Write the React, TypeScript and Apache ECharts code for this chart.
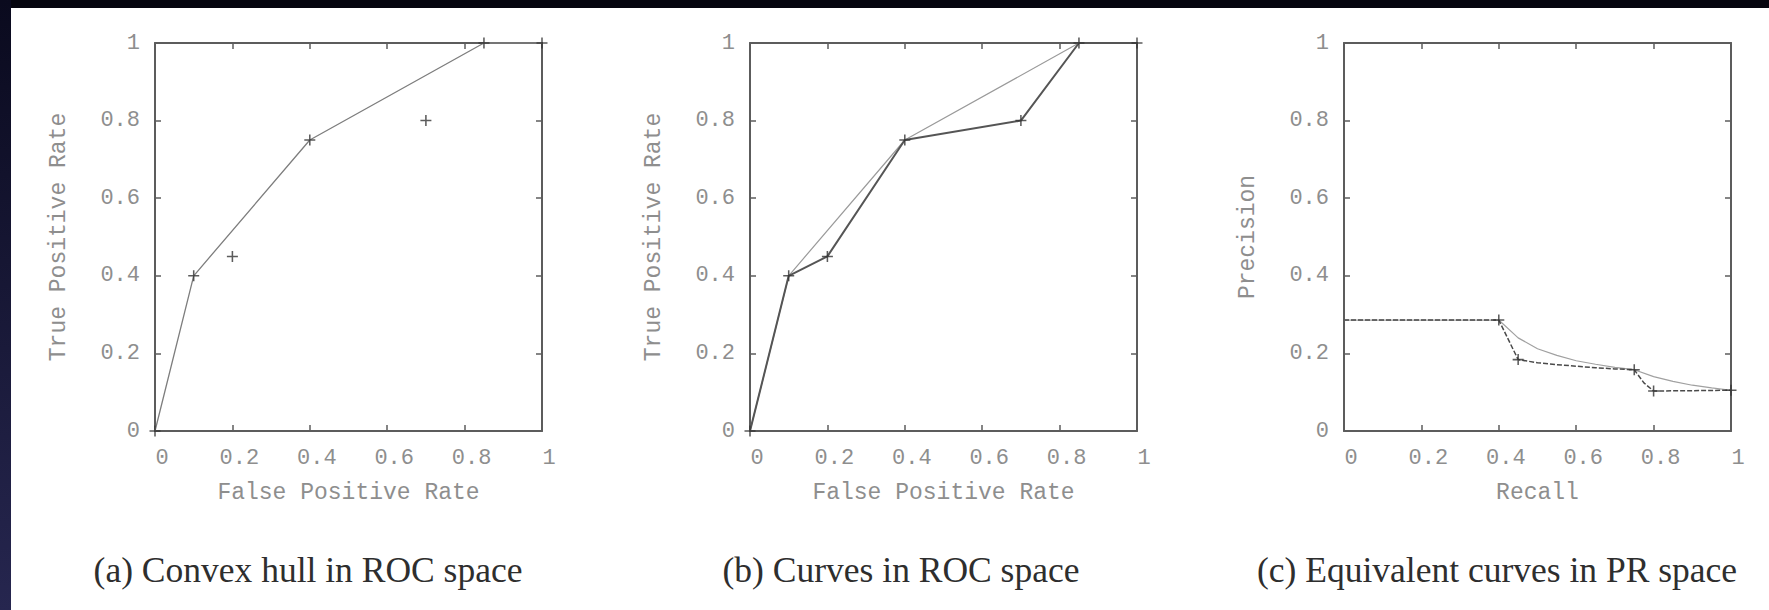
import React, { useEffect, useRef } from "react";
import * as echarts from "echarts";

// ---- data ----
const captions = [
  "(a) Convex hull in ROC space",
  "(b) Curves in ROC space",
  "(c) Equivalent curves in PR space",
];
const xTitles = ["False Positive Rate", "False Positive Rate", "Recall"];
const yTitles = ["True Positive Rate", "True Positive Rate", "Precision"];

// ROC operating points (FPR, TPR)
const rocFpr = [0, 0.1, 0.2, 0.4, 0.7, 0.85, 1];
const rocTpr = [0, 0.4, 0.45, 0.75, 0.8, 1, 1];
// ROC convex hull
const hullFpr = [0, 0.1, 0.4, 0.85, 1];
const hullTpr = [0, 0.4, 0.75, 1, 1];

// PR curve (dark, through all points)
const prCurveRecall = [0, 0.4, 0.45, 0.5, 0.55, 0.6, 0.65, 0.7, 0.75, 0.775, 0.8, 0.9, 1];
const prCurvePrecision = [0.286, 0.286, 0.184, 0.176, 0.171, 0.167, 0.163, 0.16, 0.158, 0.124, 0.103, 0.104, 0.105];
// PR markers
const prMarkRecall = [0.4, 0.45, 0.75, 0.8, 1];
const prMarkPrecision = [0.286, 0.184, 0.158, 0.103, 0.105];
// PR hull-equivalent curve (light)
const prHullRecall = [0, 0.4, 0.45, 0.5, 0.55, 0.6, 0.65, 0.7, 0.75, 0.8, 0.85, 0.9, 0.95, 1];
const prHullPrecision = [0.286, 0.286, 0.24, 0.212, 0.195, 0.181, 0.172, 0.164, 0.158, 0.14, 0.128, 0.118, 0.111, 0.105];

const zip = (a: number[], b: number[]) => a.map((v, i) => [v, b[i]]);

const PLUS = "path://M4.3,0H5.7V4.3H10V5.7H5.7V10H4.3V5.7H0V4.3H4.3Z";
const MONO = "'Liberation Mono', 'DejaVu Sans Mono', monospace";
const SERIF = "'Liberation Serif', 'DejaVu Serif', serif";
const LABEL_COLOR = "#8e8e8e";
const AXIS_COLOR = "#5c5c5c";

const gridLefts = [155, 750, 1344];
const GRID_TOP = 43;
const GRID_W = 387;
const GRID_H = 388;
const captionCenters = [308, 901, 1497];

export default function App() {
  const ref = useRef<HTMLDivElement>(null);

  useEffect(() => {
    if (!ref.current) return;
    const chart = echarts.init(ref.current, undefined, { renderer: "svg" });

    const grid = gridLefts.map((l) => ({ left: l, top: GRID_TOP, width: GRID_W, height: GRID_H, containLabel: false }));

    const tick = { show: true, inside: true, length: 6, lineStyle: { color: AXIS_COLOR, width: 1.5 } };
    const line = { show: true, onZero: false, lineStyle: { color: AXIS_COLOR, width: 2 } };

    const xAxis: any[] = [];
    const yAxis: any[] = [];
    for (let g = 0; g < 3; g++) {
      xAxis.push({
        type: "value", gridIndex: g, position: "bottom", min: 0, max: 1, interval: 0.2,
        axisLine: line, axisTick: tick, splitLine: { show: false },
        axisLabel: { show: true, margin: 16, fontFamily: MONO, fontSize: 22, color: LABEL_COLOR, padding: [0, 0, 0, 14] },
        name: xTitles[g], nameLocation: "middle", nameGap: 50,
        nameTextStyle: { fontFamily: MONO, fontSize: 23, color: LABEL_COLOR },
      });
      xAxis.push({
        type: "value", gridIndex: g, position: "top", min: 0, max: 1, interval: 0.2,
        axisLine: line, axisTick: tick, splitLine: { show: false }, axisLabel: { show: false },
      });
      yAxis.push({
        type: "value", gridIndex: g, position: "left", min: 0, max: 1, interval: 0.2,
        axisLine: line, axisTick: tick, splitLine: { show: false },
        axisLabel: { show: true, margin: 15, fontFamily: MONO, fontSize: 22, color: LABEL_COLOR },
        name: yTitles[g], nameLocation: "middle", nameGap: 85,
        nameTextStyle: { fontFamily: MONO, fontSize: 23, color: LABEL_COLOR },
      });
      yAxis.push({
        type: "value", gridIndex: g, position: "right", min: 0, max: 1, interval: 0.2,
        axisLine: line, axisTick: tick, splitLine: { show: false }, axisLabel: { show: false },
      });
    }

    const marker = (g: number, data: number[][], color = "#333") => ({
      type: "scatter", xAxisIndex: 2 * g, yAxisIndex: 2 * g, data,
      symbol: PLUS, symbolSize: 11, clip: false, z: 5,
      itemStyle: { color },
    });
    const lineSeries = (g: number, data: number[][], color: string, width: number, type: any = "solid") => ({
      type: "line", xAxisIndex: 2 * g, yAxisIndex: 2 * g, data,
      showSymbol: false, symbol: "none", clip: false,
      lineStyle: { color, width, type },
    });

    const series: any[] = [
      // (a)
      lineSeries(0, zip(hullFpr, hullTpr), "#7d7d7d", 1.3),
      marker(0, zip(rocFpr, rocTpr)),
      // (b)
      lineSeries(1, zip(hullFpr, hullTpr), "#9a9a9a", 1.2),
      lineSeries(1, zip(rocFpr, rocTpr), "#555", 2),
      marker(1, zip(rocFpr, rocTpr)),
      // (c)
      lineSeries(2, zip(prHullRecall, prHullPrecision), "#a0a0a0", 1.2),
      lineSeries(2, zip(prCurveRecall, prCurvePrecision), "#4a4a4a", 1.5, [5, 2]),
      marker(2, zip(prMarkRecall, prMarkPrecision)),
    ];

    const graphic: any[] = [
      { type: "rect", left: 0, top: 0, shape: { width: 1769, height: 8 }, style: { fill: "#06060f" }, z: 10 },
      {
        type: "rect", left: 0, top: 0, shape: { width: 11, height: 610 }, z: 10,
        style: {
          fill: new echarts.graphic.LinearGradient(0, 0, 0, 1, [
            { offset: 0, color: "#0a0a1e" },
            { offset: 1, color: "#26264f" },
          ]),
        },
      },
      ...captions.map((c, i) => ({
        type: "text", x: captionCenters[i], y: 570, z: 10,
        style: { text: c, fill: "#2e2e2e", font: `35.5px ${SERIF}`, textAlign: "center", textVerticalAlign: "middle" },
      })),
    ];

    chart.setOption({
      animation: false,
      backgroundColor: "#ffffff",
      grid, xAxis, yAxis, series, graphic,
    });

    return () => chart.dispose();
  }, []);

  return (
    <div
      ref={ref}
      style={{ position: "fixed", left: 0, top: 0, width: 1769, height: 610, background: "#fff" }}
    />
  );
}
